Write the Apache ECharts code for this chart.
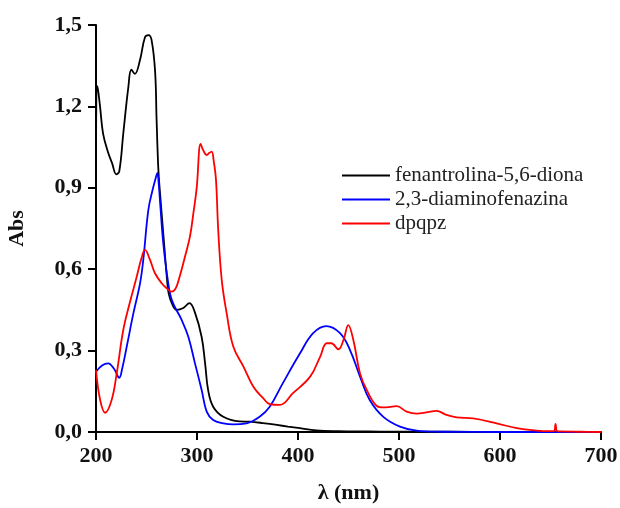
<!DOCTYPE html>
<html>
<head>
<meta charset="utf-8">
<script src="https://cdn.jsdelivr.net/npm/echarts@6/dist/echarts.min.js"></script>
<style>html,body{margin:0;padding:0;background:#fff}#c{width:620px;height:508px}</style>
</head>
<body>
<div id="c"></div>
<script>
var xTicks = [200, 300, 400, 500, 600, 700];
var yTicks = [0.0, 0.3, 0.6, 0.9, 1.2, 1.5];
var seriesNames = ['fenantrolina-5,6-diona', '2,3-diaminofenazina', 'dpqpz'];

var waveBlack = [200, 201.5, 204, 207, 212, 216, 220, 223, 227, 232, 235, 238.5, 243.5, 248.5, 252, 255, 258.5, 260, 261.7, 263.4, 267.3, 270.6, 272, 275, 280, 286.5, 292.5, 298, 304.6, 308, 311, 316, 326, 342, 352, 365, 379, 390, 402, 418, 440, 470, 500, 550, 600, 650, 700];
var absBlack = [1.02, 1.275, 1.20, 1.10, 1.03, 0.99, 0.95, 0.96, 1.10, 1.27, 1.335, 1.32, 1.37, 1.455, 1.463, 1.445, 1.33, 1.15, 0.97, 0.88, 0.70, 0.55, 0.51, 0.475, 0.45, 0.457, 0.475, 0.44, 0.35, 0.254, 0.155, 0.093, 0.056, 0.039, 0.038, 0.033, 0.026, 0.02, 0.014, 0.006, 0.003, 0.002, 0.001, 0.001, 0, 0, 0];

var waveBlue = [200, 206, 212, 218, 223, 226, 230.4, 237, 243.6, 246.8, 251.8, 256, 259.4, 260.7, 262, 264, 266.6, 270.6, 275, 284.8, 291.4, 298, 304.6, 309.6, 316, 326, 336, 349, 362, 372, 385, 402, 415, 428, 441.6, 451.5, 461.4, 471, 484.5, 501, 517.5, 540, 600, 700];
var absBlue = [0.222, 0.245, 0.253, 0.232, 0.20, 0.235, 0.314, 0.437, 0.548, 0.634, 0.818, 0.892, 0.94, 0.955, 0.92, 0.818, 0.696, 0.573, 0.487, 0.413, 0.351, 0.253, 0.155, 0.075, 0.044, 0.032, 0.028, 0.032, 0.056, 0.093, 0.18, 0.29, 0.364, 0.39, 0.364, 0.302, 0.204, 0.118, 0.056, 0.02, 0.005, 0.001, 0, 0];

var waveRed = [200, 204, 209, 215.5, 220.5, 227, 233.7, 240.3, 245, 248.5, 253.5, 258.4, 265, 270, 275, 279, 283, 288, 293, 296.4, 299.7, 303.6, 306, 309.6, 312, 314.5, 316.5, 318.8, 321, 324.5, 329.4, 336, 346, 355.8, 365.7, 372, 382, 395, 412, 422, 428.4, 433, 440, 445, 449.8, 454.8, 461.4, 468, 478, 484.5, 490, 497.7, 507.6, 517.5, 527, 537, 547, 557, 573.5, 596.7, 616.5, 636.4, 650, 653.5, 655, 656.5, 660, 680, 700];
var absRed = [0.229, 0.12, 0.071, 0.118, 0.216, 0.376, 0.48, 0.572, 0.64, 0.671, 0.634, 0.585, 0.548, 0.53, 0.517, 0.53, 0.575, 0.645, 0.72, 0.806, 0.9, 1.062, 1.04, 1.021, 1.028, 1.033, 1.0, 0.929, 0.745, 0.56, 0.437, 0.314, 0.241, 0.167, 0.124, 0.103, 0.1, 0.143, 0.204, 0.278, 0.327, 0.327, 0.305, 0.339, 0.394, 0.339, 0.216, 0.155, 0.096, 0.091, 0.092, 0.095, 0.075, 0.068, 0.072, 0.078, 0.063, 0.054, 0.05, 0.032, 0.014, 0.005, 0.003, 0.003, 0.03, 0.003, 0.002, 0.001, 0];

function pairs(w, a) { return w.map(function (x, i) { return [x, a[i]]; }); }

var chart = echarts.init(document.getElementById('c'), null, {renderer: 'canvas'});
var fontFam = '"Liberation Serif", "Times New Roman", serif';
function mkSeries(name, w, a, color) {
  return {
    name: name, type: 'line', data: pairs(w, a), symbol: 'none',
    smooth: 0.4,
    lineStyle: {color: color, width: 1.8}, itemStyle: {color: color},
    animation: false
  };
}
chart.setOption({
  animation: false,
  grid: {left: 96, right: 19, top: 25, bottom: 76, containLabel: false, outerBoundsMode: 'none'},
  legend: {
    orient: 'vertical', left: 337, top: 160, icon: 'rect', itemWidth: 48, itemHeight: 2, itemGap: 3,
    data: seriesNames,
    textStyle: {fontFamily: fontFam, fontSize: 21, color: '#222', lineHeight: 20.5}
  },
  xAxis: {
    type: 'value', min: xTicks[0], max: xTicks[xTicks.length - 1], interval: 100,
    name: 'λ (nm)', nameLocation: 'middle', nameGap: 50,
    nameTextStyle: {fontFamily: fontFam, fontSize: 22, fontWeight: 'bold', color: '#111'},
    axisLine: {show: true, lineStyle: {color: '#000', width: 2}},
    axisTick: {show: true, inside: false, length: 8, lineStyle: {color: '#000', width: 2}},
    axisLabel: {margin: 13, fontFamily: fontFam, fontSize: 22, fontWeight: 'bold', color: '#111'},
    splitLine: {show: false}
  },
  yAxis: {
    type: 'value', min: yTicks[0], max: yTicks[yTicks.length - 1], interval: 0.3,
    name: 'Abs', nameLocation: 'middle', nameGap: 68, nameRotate: 90,
    nameTextStyle: {fontFamily: fontFam, fontSize: 22, fontWeight: 'bold', color: '#111'},
    axisLine: {show: true, lineStyle: {color: '#000', width: 2}},
    axisTick: {show: true, inside: false, length: 8, lineStyle: {color: '#000', width: 2}},
    axisLabel: {margin: 14, fontFamily: fontFam, fontSize: 22, fontWeight: 'bold', color: '#111',
      formatter: function (v) { return v.toFixed(1).replace('.', ','); }},
    splitLine: {show: false}
  },
  series: [
    mkSeries(seriesNames[0], waveBlack, absBlack, '#000000'),
    mkSeries(seriesNames[1], waveBlue, absBlue, '#0000ff'),
    mkSeries(seriesNames[2], waveRed, absRed, '#ff0000')
  ]
});
</script>
</body>
</html>
